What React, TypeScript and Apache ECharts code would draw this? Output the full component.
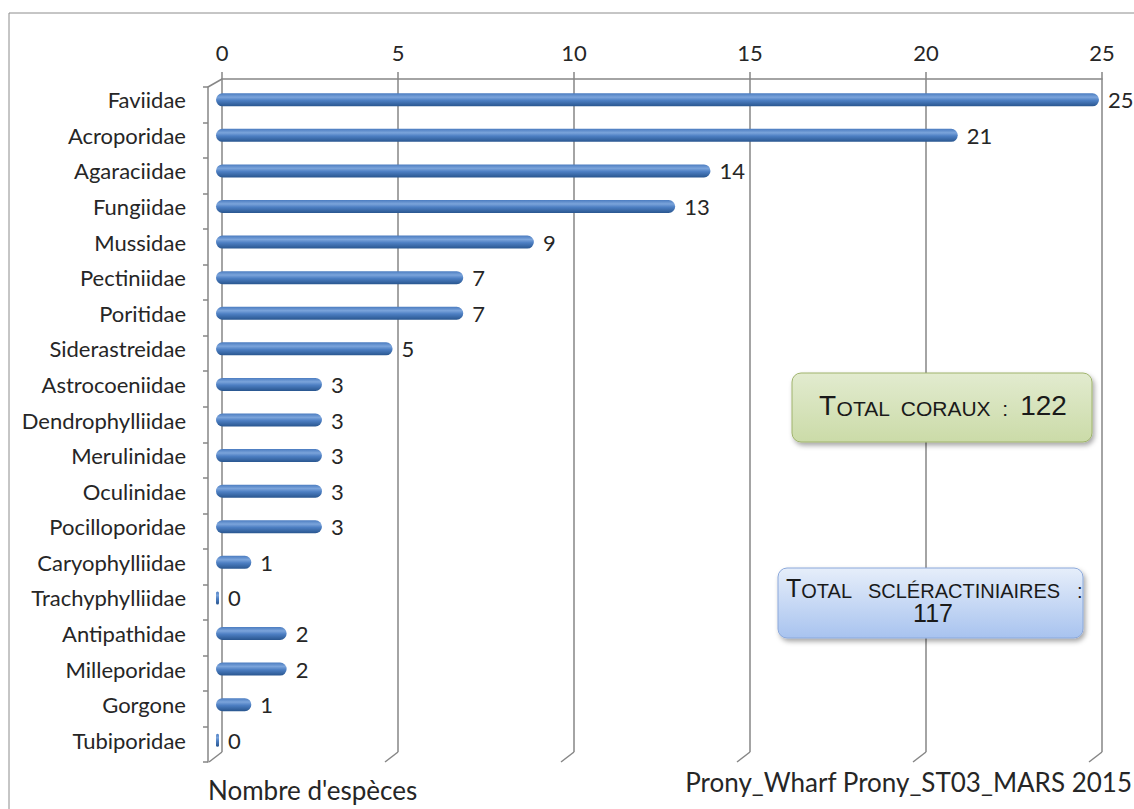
import React, { useEffect, useRef } from "react";
import * as echarts from "echarts";

const categories = [
  "Faviidae", "Acroporidae", "Agaraciidae", "Fungiidae", "Mussidae", "Pectiniidae",
  "Poritidae", "Siderastreidae", "Astrocoeniidae", "Dendrophylliidae", "Merulinidae",
  "Oculinidae", "Pocilloporidae", "Caryophylliidae", "Trachyphylliidae", "Antipathidae",
  "Milleporidae", "Gorgone", "Tubiporidae",
];
const speciesCounts = [25, 21, 14, 13, 9, 7, 7, 5, 3, 3, 3, 3, 3, 1, 0, 2, 2, 1, 0];
const axisMin = 0;
const axisMax = 25;
const axisStep = 5;
const xTickValues = [0, 5, 10, 15, 20, 25];
const axisTitle = "Nombre d'espèces";
const sourceTitle = "Prony_Wharf Prony_ST03_MARS 2015";
const totalCoraux = 122;
const totalScleractiniaires = 117;

const FONT = "Lato, 'Open Sans', sans-serif";
const BOX_FONT = "'Liberation Sans', Arial, sans-serif";
const GRID_COLOR = "#868686";
const TEXT_COLOR = "#262626";

export default function App() {
  const ref = useRef<HTMLDivElement>(null);

  useEffect(() => {
    if (!ref.current) return;
    const chart = echarts.init(ref.current, undefined, { renderer: "svg" });
    const lineStyle = { color: GRID_COLOR, width: 1.5 };
    chart.setOption({
      animation: false,
      backgroundColor: "#ffffff",
      grid: [
        { left: 222, right: 32, top: 79, bottom: 57, outerBoundsMode: "none" },
        { left: 216, right: 35, top: 82, bottom: 51, outerBoundsMode: "none" },
        { left: 208, right: 40, top: 87, bottom: 47, outerBoundsMode: "none" },
      ],
      xAxis: [
        {
          gridIndex: 0,
          type: "value",
          position: "top",
          min: axisMin,
          max: axisMax,
          interval: axisStep,
          axisLine: { show: true, lineStyle },
          axisTick: { show: true, length: 7, lineStyle },
          splitLine: { show: true, lineStyle },
          axisLabel: { fontSize: 22, margin: 16, color: TEXT_COLOR, fontFamily: FONT },
        },
        { gridIndex: 1, type: "value", min: axisMin, max: axisMax, show: false },
        { gridIndex: 2, type: "value", min: axisMin, max: axisMax, show: false },
      ],
      yAxis: [
        { gridIndex: 0, type: "category", data: categories, inverse: true, show: false },
        {
          gridIndex: 1,
          type: "category",
          data: categories,
          inverse: true,
          axisLine: { show: false },
          axisTick: { show: false },
          axisLabel: { fontSize: 22, margin: 30, color: TEXT_COLOR, fontFamily: FONT },
        },
        {
          gridIndex: 2,
          type: "category",
          data: categories,
          inverse: true,
          axisLine: { show: true, lineStyle },
          axisTick: { show: true, length: 5, lineStyle },
          axisLabel: { show: false },
        },
      ],
      series: [
        {
          type: "bar",
          xAxisIndex: 1,
          yAxisIndex: 1,
          data: speciesCounts,
          barWidth: 13,
          barMinHeight: 3,
          itemStyle: {
            borderRadius: 6.5,
            color: {
              type: "linear",
              x: 0, y: 0, x2: 0, y2: 1,
              colorStops: [
                { offset: 0, color: "#4b7cc0" },
                { offset: 0.3, color: "#7ba4db" },
                { offset: 0.55, color: "#4d7fc3" },
                { offset: 1, color: "#29568f" },
              ],
            },
          },
          label: {
            show: true,
            position: "right",
            distance: 9,
            fontSize: 22,
            fontFamily: FONT,
            color: TEXT_COLOR,
          },
        },
      ],
    });

    const diagonals: any[] = xTickValues.map((v) => {
      const x = chart.convertToPixel({ xAxisIndex: 0 }, v) as number;
      return {
        type: "line",
        silent: true,
        shape: { x1: x, y1: 752, x2: x - 13, y2: 762 },
        style: { stroke: GRID_COLOR, lineWidth: 1.5 },
      };
    });
    const x0 = chart.convertToPixel({ xAxisIndex: 0 }, 0) as number;
    diagonals.push({
      type: "line",
      silent: true,
      shape: { x1: x0, y1: 79, x2: x0 - 14, y2: 87 },
      style: { stroke: GRID_COLOR, lineWidth: 1.5 },
    });

    const bigSmall = (big: number, small: number) => ({
      b: { fontSize: big, fontFamily: BOX_FONT, fill: "#1a1a1a", verticalAlign: "bottom" },
      s: { fontSize: small, fontFamily: BOX_FONT, fill: "#1a1a1a", verticalAlign: "bottom" },
    });

    chart.setOption({
      graphic: [
        {
          type: "rect",
          silent: true,
          z: -10,
          shape: { x: 9, y: 13, width: 1200, height: 900 },
          style: { fill: "none", stroke: "#8c8c8c", lineWidth: 1 },
        },
        ...diagonals,
        {
          type: "rect",
          silent: true,
          shape: { x: 792, y: 373, width: 300, height: 69, r: 9 },
          style: {
            fill: {
              type: "linear", x: 0, y: 0, x2: 0, y2: 1,
              colorStops: [
                { offset: 0, color: "#e2ebcf" },
                { offset: 1, color: "#cbdba8" },
              ],
            },
            stroke: "#9fb36c",
            lineWidth: 1,
            shadowBlur: 5,
            shadowOffsetX: 2,
            shadowOffsetY: 3,
            shadowColor: "rgba(0,0,0,0.35)",
          },
        },
        {
          type: "text",
          silent: true,
          x: 943,
          y: 405,
          style: {
            text: `{b|T}{s|OTAL  CORAUX  :  }{b|${totalCoraux}}`,
            rich: bigSmall(28, 21),
            align: "center",
            verticalAlign: "middle",
          },
        },
        {
          type: "rect",
          silent: true,
          shape: { x: 778, y: 568, width: 305, height: 70, r: 9 },
          style: {
            fill: {
              type: "linear", x: 0, y: 0, x2: 0, y2: 1,
              colorStops: [
                { offset: 0, color: "#e6eefa" },
                { offset: 1, color: "#a8c3ef" },
              ],
            },
            stroke: "#8ba8da",
            lineWidth: 1,
            shadowBlur: 5,
            shadowOffsetX: 2,
            shadowOffsetY: 3,
            shadowColor: "rgba(0,0,0,0.35)",
          },
        },
        {
          type: "text",
          silent: true,
          x: 786,
          y: 588,
          style: {
            text: "{b|T}{s|OTAL   SCLÉRACTINIAIRES   :}",
            rich: bigSmall(25, 20),
            align: "left",
            verticalAlign: "middle",
          },
        },
        {
          type: "text",
          silent: true,
          x: 933,
          y: 613,
          style: {
            text: `${totalScleractiniaires}`,
            font: `25px ${BOX_FONT}`,
            fill: "#1a1a1a",
            align: "center",
            verticalAlign: "middle",
          },
        },
        {
          type: "text",
          silent: true,
          x: 208,
          y: 790,
          style: {
            text: axisTitle,
            font: `26px ${FONT}`,
            fill: TEXT_COLOR,
            align: "left",
            verticalAlign: "middle",
          },
        },
        {
          type: "text",
          silent: true,
          x: 1132,
          y: 782,
          style: {
            text: sourceTitle,
            font: `26px ${FONT}`,
            fill: TEXT_COLOR,
            align: "right",
            verticalAlign: "middle",
          },
        },
      ],
    });

    return () => chart.dispose();
  }, []);

  return (
    <div
      ref={ref}
      style={{ position: "fixed", left: 0, top: 0, width: 1134, height: 809, background: "#fff" }}
    />
  );
}
